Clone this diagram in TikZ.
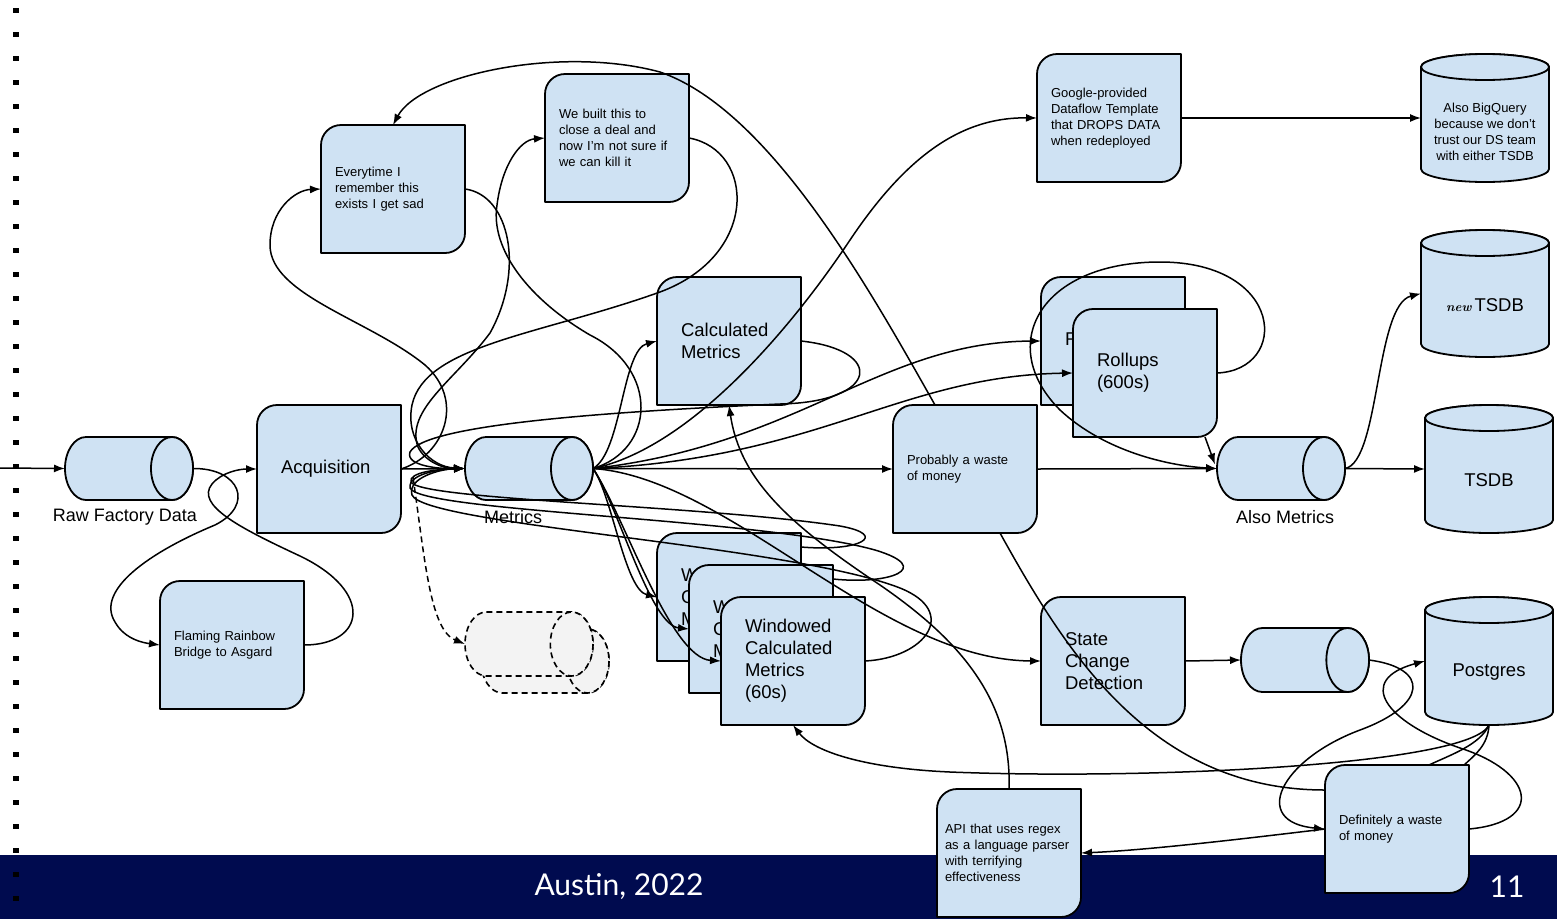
\documentclass[tikz,border=0pt]{standalone}
\usepackage{fontspec}
\setmainfont{Liberation Sans}
\newfontfamily\footfont{Lato}
\newfontfamily\scriptword{Latin Modern Roman}
\usetikzlibrary{arrows.meta,calc}

\definecolor{boxblue}{HTML}{CFE2F3}
\definecolor{navy}{HTML}{000B4F}
\definecolor{ghostgray}{HTML}{F3F3F3}

\tikzset{
  conn/.style={line width=1.5pt, draw=black},
  arr/.style={-{Latex[length=11pt,width=8pt]}},
  shapeline/.style={draw=black, line width=1.8pt, fill=boxblue, line join=round},
  ghostline/.style={fill=ghostgray, dash pattern=on 6pt off 4pt, line width=1.6pt},
  anchorbox/.style={rectangle, draw=none, inner sep=0pt, outer sep=0pt},
  bigtext/.style={font=\fontsize{18.5}{22}\selectfont, text width=96pt, inner xsep=24pt, align=left},
  smalltext/.style={font=\fontsize{13}{16}\selectfont, text width=116pt, inner xsep=14pt, align=left},
  apitext/.style={font=\fontsize{13}{16}\selectfont, text width=128pt, inner xsep=8pt, align=left},
  dbtext/.style={font=\fontsize{13}{16}\selectfont, align=center, inner sep=0pt},
  bigdb/.style={font=\fontsize{18.5}{22}\selectfont, align=center, inner sep=0pt},
  cyllabel/.style={font=\fontsize{18}{21}\selectfont, inner sep=0pt},
  foot/.style={font=\footfont\fontsize{30}{34}\selectfont, text=white, inner sep=0pt},
}

% process box: rounded top-left and bottom-right corners, 144 x 128
\newcommand\gbox[5]{%
  \path[shapeline] ({#2},{#3+128}) -- ({#2},{#3+20})
    arc[start angle=180,end angle=270,radius=20] -- ({#2+144},{#3})
    -- ({#2+144},{#3+108}) arc[start angle=0,end angle=90,radius=20] -- cycle;
  \node[anchorbox,minimum width=144,minimum height=128,#4] (#1) at ({#2+72},{#3+64}) {#5};
}

% queue: cylinder lying on its side, open end on the right
\newcommand\hcyl[6][]{%
  \pgfmathsetmacro\hr{(#6-#4)/3}%
  \pgfmathsetmacro\hry{(#6-#4)/2}%
  \pgfmathsetmacro\hxa{#3+\hr}%
  \pgfmathsetmacro\hxb{#5-\hr}%
  \pgfmathsetmacro\hyc{(#4+#6)/2}%
  \path[shapeline,#1] (\hxa,#4) -- (\hxb,#4)
    arc[start angle=270,end angle=450,x radius=\hr,y radius=\hry]
    -- (\hxa,#6) arc[start angle=90,end angle=270,x radius=\hr,y radius=\hry] -- cycle;
  \path[shapeline,#1] (\hxb,\hyc) ellipse[x radius=\hr,y radius=\hry];
  \node[anchorbox,minimum width={#5-#3},minimum height={#6-#4}] (#2) at ({(#3+#5)/2},\hyc) {};
}

% database: upright cylinder
\newcommand\vcyl[6][]{%
  \pgfmathsetmacro\vxr{(#5-#3)/2}%
  \pgfmathsetmacro\vxc{(#3+#5)/2}%
  \pgfmathsetmacro\vya{#4+13}%
  \pgfmathsetmacro\vyb{#6-13}%
  \path[shapeline,#1] (#3,\vya) -- (#3,\vyb)
    arc[start angle=180,end angle=0,x radius=\vxr,y radius=13]
    -- (#5,\vya) arc[start angle=0,end angle=-180,x radius=\vxr,y radius=13] -- cycle;
  \path[shapeline,#1] (\vxc,\vya) ellipse[x radius=\vxr,y radius=13];
  \node[anchorbox,minimum width={#5-#3},minimum height={#6-#4}] (#2) at (\vxc,{(#4+#6)/2}) {};
}

\begin{document}
\begin{tikzpicture}[x=1pt,y=-1pt]
\useasboundingbox (0,0) rectangle (1557,919);

% footer band
\fill[navy] (0,855) rectangle (1557,919);
\node[foot] (place) at (619,887) {Austin, 2022};
\node[foot] (pageno) at (1507,887) {11};

% margin ticks
\foreach \k in {0,...,37} { \fill[black] (13,{8+24*\k}) rectangle ++(6,5); }

% ingest side
\hcyl{raw}{65}{437}{193}{500}
\gbox{acq}{257}{405}{bigtext}{Acquisition}
\gbox{bridge}{160}{581}{smalltext}{Flaming Rainbow\\Bridge to Asgard}
\gbox{sad}{321}{125}{smalltext}{Everytime I\\remember this\\exists I get sad}
\gbox{deal}{545}{74}{smalltext}{We built this to\\close a deal and\\now I’m not sure if\\we can kill it}
\hcyl{metrics}{465}{437}{593}{500}
\hcyl[ghostline]{ghostback}{481}{629}{609}{693}
\hcyl[ghostline]{ghost}{465}{612}{593}{676}
\gbox{calc}{657}{277}{bigtext}{Calculated\\Metrics}
\gbox{win1}{657}{533}{bigtext}{Windowed\\Calculated\\Metrics}
\gbox{win2}{689}{565}{bigtext}{Windowed\\Calculated\\Metrics}
\gbox{win3}{721}{597}{bigtext}{Windowed\\Calculated\\Metrics\\(60s)}

% storage side
\gbox{waste}{893}{405}{smalltext}{Probably a waste\\of money}
\gbox{dataflow}{1037}{54}{smalltext}{Google-provided\\Dataflow Template\\that DROPS DATA\\when redeployed}
\vcyl{bq}{1421}{54}{1549}{182}
\node[dbtext] (bqtext) at (1485,132) {Also BigQuery\\because we don’t\\trust our DS team\\with either TSDB};
\gbox{roll1}{1041}{277}{bigtext}{Rollups}
\gbox{roll2}{1073}{309}{bigtext}{Rollups\\(600s)}
\hcyl{alsom}{1217}{437}{1345}{500}
\vcyl{newts}{1421}{230}{1549}{357}
\node[bigdb] (newtstext) at (1485,305) {{\scriptword\bfseries\itshape\fontsize{13}{16}\selectfont new}\,TSDB};
\vcyl{tsdb}{1425}{405}{1553}{533}
\node[bigdb] (tsdbtext) at (1489,480) {TSDB};
\gbox{state}{1041}{597}{bigtext}{State\\Change\\Detection}
\hcyl{queue}{1241}{628}{1369}{692}
\vcyl{pg}{1425}{597}{1553}{725}
\node[bigdb] (pgtext) at (1489,672) {Postgres};
\gbox{defw}{1325}{765}{smalltext}{Definitely a waste\\of money}
\gbox{api}{937}{789}{apitext}{API that uses regex\\as a language parser\\with terrifying\\effectiveness}

% queue captions
\node[cyllabel] (rawlabel) at (125,517) {Raw Factory Data};
\node[cyllabel] (metricslabel) at (513,517) {Metrics};
\node[cyllabel] (alsolabel) at (1285,517) {Also Metrics};

% ---- connectors ----
\coordinate (inlet) at (0,468);
\draw[conn,arr] (inlet) -- (raw.west);
\draw[conn,arr] (raw.east) .. controls (240,468) and (255,505) .. (215,525)
  .. controls (150,552) and (95,590) .. (115,622)
  .. controls (125,640) and (145,643) .. (bridge.west);
\draw[conn,arr] (bridge.east) .. controls (365,645) and (375,592) .. (300,556)
  .. controls (240,528) and (195,505) .. (212,484)
  .. controls (222,472) and (240,469) .. (acq.west);
\draw[conn,arr] (acq.east) -- (metrics.west);
\draw[conn,arr,dash pattern=on 6pt off 4pt] ($(acq.east)+(12,8)$) .. controls (425,560) and (430,630) .. (ghost.west);

% the tangle above Metrics
\draw[conn,arr] (acq.east) .. controls (445,455) and (465,400) .. (425,365)
  .. controls (370,320) and (270,295) .. (270,245)
  .. controls (270,210) and (295,190) .. (sad.west);
\draw[conn,arr] (sad.east) .. controls (510,195) and (525,270) .. (490,333)
  .. controls (455,380) and (405,410) .. (418,447)
  .. controls (425,462) and (445,469) .. (metrics.west);
\draw[conn,arr] (metrics.east) .. controls (655,450) and (660,370) .. (590,335)
  .. controls (530,300) and (490,250) .. (497,205)
  .. controls (502,165) and (520,140) .. (deal.west);
\draw[conn,arr] (deal.east) .. controls (755,150) and (760,255) .. (660,292)
  .. controls (540,335) and (425,345) .. (412,405)
  .. controls (405,440) and (430,467) .. (metrics.west);
\draw[conn,arr] (calc.east) .. controls (885,350) and (880,402) .. (780,404)
  .. controls (600,412) and (425,425) .. (410,452)
  .. controls (405,466) and (440,469) .. (metrics.west);
\draw[conn,arr] ($(waste.north)+(-30,0)$) .. controls (870,290) and (770,110) .. (660,72)
  .. controls (560,45) and (420,75) .. (sad.north);

% fan out of Metrics
\draw[conn,arr] (metrics.east) .. controls (622,452) and (622,350) .. (calc.west);
\draw[conn,arr] (metrics.east) .. controls (690,448) and (790,330) .. (850,240)
  .. controls (905,158) and (960,117) .. (dataflow.west);
\draw[conn,arr] (metrics.east) .. controls (800,445) and (880,342) .. (roll1.west);
\draw[conn,arr] (metrics.east) .. controls (820,458) and (900,376) .. (roll2.west);
\draw[conn,arr] (metrics.east) -- (waste.west);
\draw[conn,arr] (metrics.east) .. controls (730,478) and (880,660) .. (state.west);
\draw[conn,arr] (metrics.east) .. controls (612,495) and (625,590) .. (win1.west);
\draw[conn,arr] (metrics.east) .. controls (618,505) and (650,625) .. (win2.west);
\draw[conn,arr] (metrics.east) .. controls (624,515) and (670,658) .. (win3.west);

% windowed results looping back
\draw[conn,arr] (win3.east) .. controls (925,658) and (960,612) .. (900,588)
  .. controls (790,545) and (425,525) .. (412,495)
  .. controls (407,478) and (440,469) .. (metrics.west);
\draw[conn,arr] ($(win2.north east)+(0,14)$) .. controls (890,585) and (935,568) .. (875,550)
  .. controls (760,518) and (420,512) .. (410,488)
  .. controls (408,474) and (440,469) .. (metrics.west);
\draw[conn,arr] ($(win1.north east)+(0,14)$) .. controls (860,552) and (890,535) .. (840,526)
  .. controls (700,505) and (420,500) .. (411,482)
  .. controls (408,472) and (440,469) .. (metrics.west);

% lower right
\draw[conn,arr] (api.north) .. controls (1012,700) and (960,640) .. (880,585)
  .. controls (790,525) and (740,480) .. (calc.south);
\draw[conn,arr] (pg.south) .. controls (1470,765) and (1150,780) .. (950,772)
  .. controls (860,768) and (812,750) .. (win3.south);
\draw[conn] ($(waste.south)+(35,0)$) .. controls (1065,650) and (1150,790) .. ($(defw.north west)+(0,25)$);
\draw[conn,arr] (queue.east) .. controls (1430,668) and (1428,705) .. (1360,730)
  .. controls (1280,760) and (1250,822) .. (defw.west);
\draw[conn,arr] (defw.east) .. controls (1545,822) and (1535,772) .. (1460,748)
  .. controls (1385,722) and (1355,680) .. (pg.west);
\draw[conn] (pg.south) .. controls (1480,745) and (1450,755) .. ($(defw.north west)+(104,0)$);
\draw[conn] (pg.south) .. controls (1488,745) and (1475,755) .. ($(defw.north west)+(139,0)$);
\draw[conn,arr] (defw.west) .. controls (1250,838) and (1150,850) .. (api.east);

% right side
\draw[conn,arr] (dataflow.east) -- (bq.west);
\draw[conn,arr] (waste.east) -- (alsom.west);
\draw[conn,arr] ($(roll2.south east)+(-12,0)$) -- ($(alsom.west)+(-2,-4)$);
\draw[conn,arr] (roll2.east) .. controls (1290,370) and (1285,262) .. (1160,262)
  .. controls (1040,262) and (995,345) .. (1060,410)
  .. controls (1105,452) and (1170,466) .. (alsom.west);
\draw[conn,arr] (alsom.east) .. controls (1380,462) and (1375,305) .. (newts.west);
\draw[conn,arr] (alsom.east) -- (tsdb.west);
\draw[conn,arr] (state.east) -- (queue.west);
\end{tikzpicture}
\end{document}
